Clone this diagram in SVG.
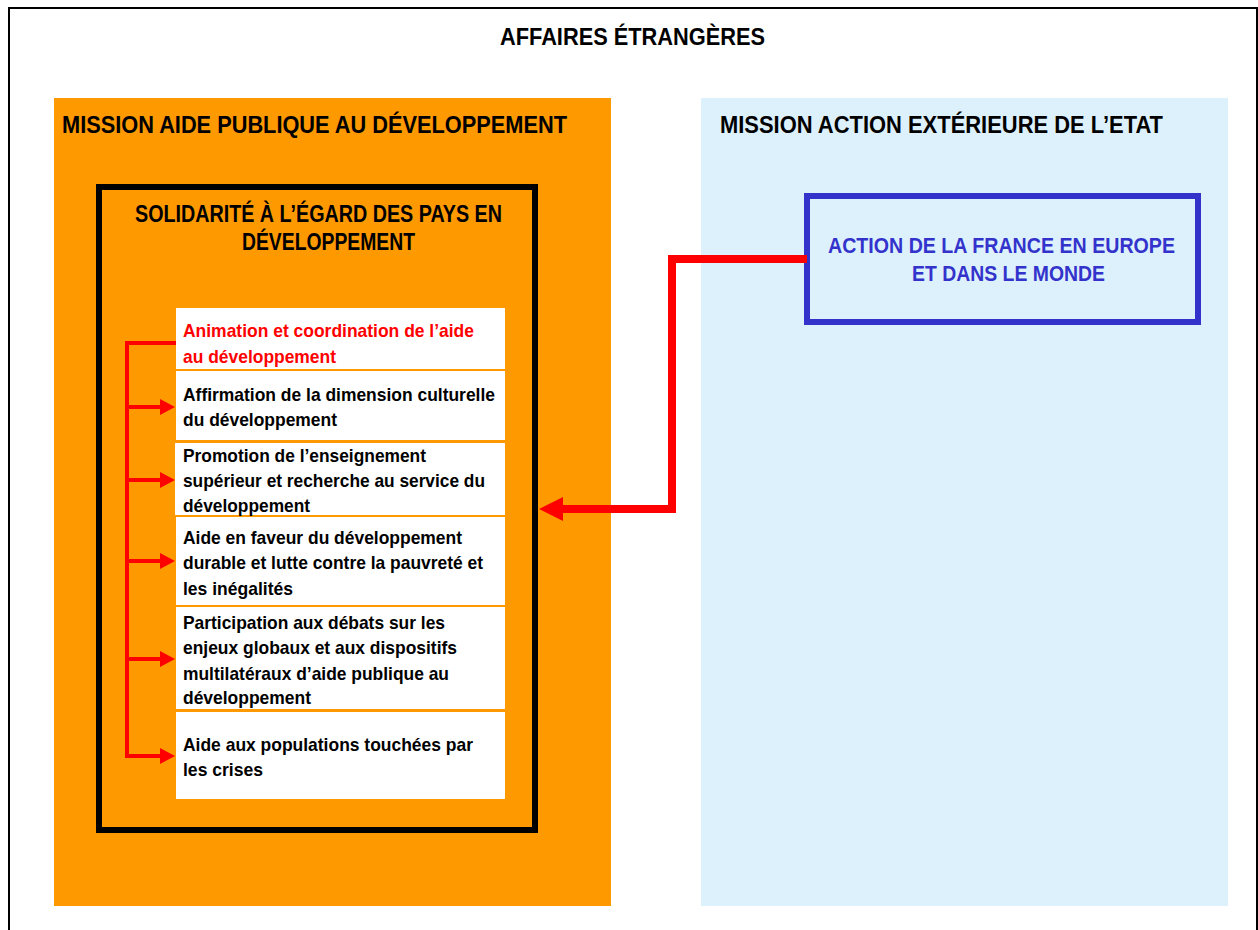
<svg xmlns="http://www.w3.org/2000/svg" width="1258" height="930" viewBox="0 0 1258 930">
<defs>
<style>
text{font-family:"Liberation Sans Narrow","Liberation Sans",Arial,sans-serif;font-weight:bold;}
.h{font-size:23px;fill:#000;}
.it{font-size:19px;fill:#000;}
.red{fill:#FF0000;}
.blue{font-size:22px;fill:#3333CC;}
.item{fill:#fff;}
.ah{fill:#FF0000;stroke:none;}
</style>
</defs>
<rect width="1258" height="930" fill="#fff"/>
<g id="frame">
<path d="M9,940 L9,8 L1257,8 L1257,940" fill="none" stroke="#000" stroke-width="2"/>
<text class="h" x="500" y="45" textLength="265" lengthAdjust="spacingAndGlyphs">AFFAIRES ÉTRANGÈRES</text>
</g>
<g id="mission-apd">
<rect x="54" y="98" width="557" height="808" fill="#FF9900"/>
<text class="h" x="62" y="133" textLength="505" lengthAdjust="spacingAndGlyphs">MISSION AIDE PUBLIQUE AU DÉVELOPPEMENT</text>
</g>
<g id="mission-aee">
<rect x="701" y="98" width="527" height="808" fill="#DDF1FD"/>
<text class="h" x="720" y="133" textLength="443" lengthAdjust="spacingAndGlyphs">MISSION ACTION EXTÉRIEURE DE L’ETAT</text>
</g>
<g id="programme-solidarite">
<rect x="99" y="187" width="436" height="643" fill="none" stroke="#000" stroke-width="6"/>
<text class="h" x="135" y="222" textLength="367" lengthAdjust="spacingAndGlyphs">SOLIDARITÉ À L’ÉGARD DES PAYS EN</text>
<text class="h" x="242" y="250" textLength="173" lengthAdjust="spacingAndGlyphs">DÉVELOPPEMENT</text>
</g>
<g id="action-1">
<rect class="item" x="176" y="308" width="329" height="61"/>
<text class="it red" x="183" y="337" textLength="291" lengthAdjust="spacingAndGlyphs">Animation et coordination de l’aide</text>
<text class="it red" x="183" y="363" textLength="153" lengthAdjust="spacingAndGlyphs">au développement</text>
</g>
<g id="action-2">
<rect class="item" x="176" y="371" width="329" height="69"/>
<text class="it" x="183" y="401" textLength="312" lengthAdjust="spacingAndGlyphs">Affirmation de la dimension culturelle</text>
<text class="it" x="183" y="426" textLength="154" lengthAdjust="spacingAndGlyphs">du développement</text>
</g>
<g id="action-3">
<rect class="item" x="175" y="443" width="330" height="72"/>
<text class="it" x="183" y="462" textLength="243" lengthAdjust="spacingAndGlyphs">Promotion de l’enseignement</text>
<text class="it" x="183" y="487" textLength="302" lengthAdjust="spacingAndGlyphs">supérieur et recherche au service du</text>
<text class="it" x="183" y="512" textLength="127" lengthAdjust="spacingAndGlyphs">développement</text>
</g>
<g id="action-4">
<rect class="item" x="176" y="517" width="329" height="88"/>
<text class="it" x="183" y="544" textLength="279" lengthAdjust="spacingAndGlyphs">Aide en faveur du développement</text>
<text class="it" x="183" y="569" textLength="300" lengthAdjust="spacingAndGlyphs">durable et lutte contre la pauvreté et</text>
<text class="it" x="183" y="595" textLength="110" lengthAdjust="spacingAndGlyphs">les inégalités</text>
</g>
<g id="action-5">
<rect class="item" x="176" y="607" width="329" height="102"/>
<text class="it" x="183" y="629" textLength="262" lengthAdjust="spacingAndGlyphs">Participation aux débats sur les</text>
<text class="it" x="183" y="654" textLength="274" lengthAdjust="spacingAndGlyphs">enjeux globaux et aux dispositifs</text>
<text class="it" x="183" y="680" textLength="266" lengthAdjust="spacingAndGlyphs">multilatéraux d’aide publique au</text>
<text class="it" x="183" y="704" textLength="128" lengthAdjust="spacingAndGlyphs">développement</text>
</g>
<g id="action-6">
<rect class="item" x="176" y="712" width="329" height="87"/>
<text class="it" x="183" y="751" textLength="290" lengthAdjust="spacingAndGlyphs">Aide aux populations touchées par</text>
<text class="it" x="183" y="776" textLength="80" lengthAdjust="spacingAndGlyphs">les crises</text>
</g>
<g id="programme-action-france">
<rect x="807" y="196" width="391" height="126" fill="none" stroke="#3333CC" stroke-width="6"/>
<text class="blue" x="828" y="253" textLength="347" lengthAdjust="spacingAndGlyphs">ACTION DE LA FRANCE EN EUROPE</text>
<text class="blue" x="912" y="281" textLength="193" lengthAdjust="spacingAndGlyphs">ET DANS LE MONDE</text>
</g>
<g id="connectors">
<g fill="none" stroke="#FF0000" stroke-width="4">
<path d="M127,341 L127,758"/>
<path d="M125,343 L176,343"/>
<path d="M127,407 L161,407"/>
<path d="M127,480 L161,480"/>
<path d="M127,561 L161,561"/>
<path d="M127,659 L161,659"/>
<path d="M125,756 L161,756"/>
<path d="M807,259 L672,259 L672,509 L562,509" stroke-width="8"/>
</g>
<polygon class="ah" points="160,399 175,407 160,415"/>
<polygon class="ah" points="160,472 175,480 160,488"/>
<polygon class="ah" points="160,553 175,561 160,569"/>
<polygon class="ah" points="160,651 175,659 160,667"/>
<polygon class="ah" points="160,748 175,756 160,764"/>
<polygon class="ah" points="563,497 539,509 563,521"/>
</g>
</svg>
